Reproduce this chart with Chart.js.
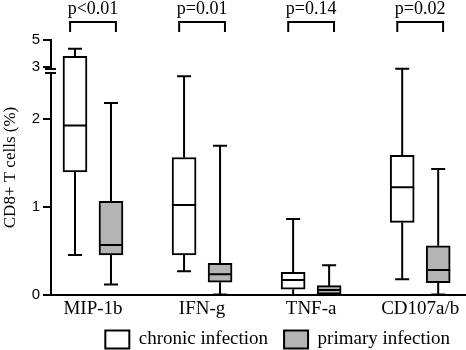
<!DOCTYPE html>
<html lang="en">
<head>
    <meta charset="UTF-8">
    <script src="https://cdn.jsdelivr.net/npm/chart.js"></script>
    <title>CD8+ T cells box plot</title>
    <style>
        body { margin: 0; background: #fff; }
        #wrap { width: 466px; height: 350px; }
    </style>
</head>
<body>
<div id="wrap"><canvas id="myChart" width="466" height="350"></canvas></div>
<script>
    // data (percent of CD8+ T cells)
    const categories = ['MIP-1b', 'IFN-g', 'TNF-a', 'CD107a/b'];
    const pValues = ['p<0.01', 'p=0.01', 'p=0.14', 'p=0.02'];

    const chronicMin = [0.455, 0.27, 0.0, 0.178];
    const chronicQ1 = [1.40, 0.455, 0.065, 0.826];
    const chronicMedian = [1.93, 1.026, 0.17, 1.227];
    const chronicQ3 = [3.78, 1.565, 0.258, 1.59];
    const chronicMax = [4.35, 2.49, 0.864, 2.576];

    const primaryMin = [0.12, 0.005, 0.0, 0.005];
    const primaryQ1 = [0.455, 0.145, 0.01, 0.14];
    const primaryMedian = [0.568, 0.235, 0.057, 0.284];
    const primaryQ3 = [1.065, 0.36, 0.106, 0.56];
    const primaryMax = [2.185, 1.70, 0.34, 1.435];

    const yTicks = [0, 1, 2, 3, 5];

    // broken y axis: linear up to the break, compressed above 3
    const BREAK_LOW = 2.6;
    const BREAK_AXIS = 2.597;
    const UPPER_SCALE = 0.153;
    function toAxis(v) {
        return v <= BREAK_LOW ? v : BREAK_AXIS + (v - 3) * UPPER_SCALE;
    }

    const OFFSET = 0.165;

    function boxData(q1, q3, shift) {
        return categories.map((c, i) => ({ x: i + shift, y: [toAxis(q1[i]), toAxis(q3[i])] }));
    }

    const stats = [
        { min: chronicMin, med: chronicMedian, max: chronicMax, q1: chronicQ1, q3: chronicQ3 },
        { min: primaryMin, med: primaryMedian, max: primaryMax, q1: primaryQ1, q3: primaryQ3 }
    ];

    // whiskers, medians, axis break and p-value brackets
    const boxExtras = {
        id: 'boxExtras',
        afterDatasetsDraw(chart) {
            const ctx = chart.ctx;
            const y = chart.scales.y;
            const x = chart.scales.x;
            ctx.save();
            ctx.strokeStyle = '#000';
            ctx.lineWidth = 2;
            stats.forEach((s, d) => {
                const meta = chart.getDatasetMeta(d);
                meta.data.forEach((bar, i) => {
                    const cx = bar.x;
                    const half = bar.width / 2;
                    const cap = 7;
                    const pMin = y.getPixelForValue(toAxis(s.min[i]));
                    const pMax = y.getPixelForValue(toAxis(s.max[i]));
                    const pQ1 = y.getPixelForValue(toAxis(s.q1[i]));
                    const pQ3 = y.getPixelForValue(toAxis(s.q3[i]));
                    const pMed = y.getPixelForValue(toAxis(s.med[i]));
                    ctx.beginPath();
                    ctx.moveTo(cx, pQ3); ctx.lineTo(cx, pMax);
                    ctx.moveTo(cx - cap, pMax); ctx.lineTo(cx + cap, pMax);
                    ctx.moveTo(cx, pQ1); ctx.lineTo(cx, pMin);
                    ctx.moveTo(cx - cap, pMin); ctx.lineTo(cx + cap, pMin);
                    ctx.moveTo(cx - half, pMed); ctx.lineTo(cx + half, pMed);
                    ctx.stroke();
                });
            });

            // axis break marks
            const yb = y.getPixelForValue(2.55);
            const ax = chart.chartArea.left;
            ctx.fillStyle = '#fff';
            ctx.fillRect(ax - 3, yb - 1.5, 6, 3);
            ctx.beginPath();
            ctx.moveTo(ax - 6, yb - 2); ctx.lineTo(ax + 5, yb - 2);
            ctx.moveTo(ax - 6, yb + 2); ctx.lineTo(ax + 5, yb + 2);
            ctx.stroke();

            // p-value brackets
            ctx.fillStyle = '#000';
            ctx.font = '18px "Liberation Serif"';
            ctx.textAlign = 'center';
            ctx.textBaseline = 'alphabetic';
            pValues.forEach((p, i) => {
                const l = x.getPixelForValue(i - 0.21);
                const r = x.getPixelForValue(i + 0.21);
                ctx.beginPath();
                ctx.moveTo(l, 32); ctx.lineTo(l, 22); ctx.lineTo(r, 22); ctx.lineTo(r, 32);
                ctx.stroke();
                ctx.fillText(p, x.getPixelForValue(i), 14);
            });
            ctx.restore();
        }
    };

    Chart.defaults.color = '#000';

    const ctx = document.getElementById('myChart').getContext('2d');
    const myChart = new Chart(ctx, {
        type: 'bar',
        data: {
            datasets: [{
                label: 'chronic infection',
                data: boxData(chronicQ1, chronicQ3, -OFFSET),
                backgroundColor: '#ffffff',
                borderColor: '#000',
                borderWidth: 2,
                borderSkipped: false
            }, {
                label: 'primary infection',
                data: boxData(primaryQ1, primaryQ3, OFFSET),
                backgroundColor: '#b4b4b4',
                borderColor: '#000',
                borderWidth: 2,
                borderSkipped: false
            }]
        },
        options: {
            responsive: false,
            animation: false,
            devicePixelRatio: 1,
            grouped: false,
            barThickness: 24,
            layout: { padding: { top: 40, right: 0, left: 0, bottom: 0 } },
            scales: {
                x: {
                    type: 'linear',
                    offset: false,
                    min: -0.385,
                    max: 3.42,
                    grid: { display: false, drawTicks: false },
                    border: { display: true, color: '#000', width: 2 },
                    afterBuildTicks: (scale) => { scale.ticks = categories.map((c, i) => ({ value: i })); },
                    afterFit: (scale) => {
                        scale.height = 19;
                        // let the labels hang below the short axis box without clipping
                        scale._computeLabelArea = () => undefined;
                    },
                    ticks: {
                        padding: 3,
                        autoSkip: false,
                        maxRotation: 0,
                        font: { family: 'Liberation Serif', size: 19 },
                        callback: (value) => categories[value]
                    }
                },
                y: {
                    min: 0,
                    max: toAxis(5),
                    grid: { drawOnChartArea: false, drawTicks: true, tickLength: 8, color: '#000', lineWidth: 2 },
                    border: { display: true, color: '#000', width: 2 },
                    afterBuildTicks: (scale) => { scale.ticks = yTicks.map(v => ({ value: toAxis(v) })); },
                    afterFit: (scale) => { scale.width = 51; },
                    ticks: {
                        padding: 3,
                        font: { family: 'Liberation Sans', size: 15 },
                        callback: (value, index) => yTicks[index]
                    },
                    title: {
                        display: true,
                        text: 'CD8+ T cells (%)',
                        padding: 0,
                        font: { family: 'Liberation Serif', size: 17 }
                    }
                }
            },
            plugins: {
                tooltip: { enabled: false },
                legend: {
                    position: 'bottom',
                    align: 'end',
                    maxHeight: 36,
                    labels: {
                        boxWidth: 24,
                        boxHeight: 18,
                        padding: 16,
                        font: { family: 'Liberation Serif', size: 19 }
                    }
                }
            }
        },
        plugins: [boxExtras]
    });
</script>
</body>
</html>
